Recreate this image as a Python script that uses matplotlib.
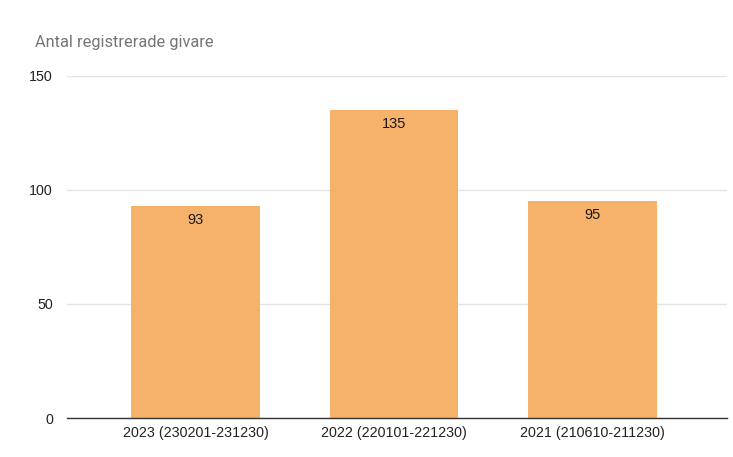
import matplotlib.pyplot as plt

categories = ['2023 (230201-231230)', '2022 (220101-221230)', '2021 (210610-211230)']
values = [93, 135, 95]
y_ticks = [0, 50, 100, 150]
title = 'Antal registrerade givare'

bar_color = '#F6B26B'

fig = plt.figure(figsize=(7.33, 4.57), dpi=100)
ax = fig.add_axes([67 / 733, 1 - 418 / 457, 660 / 733, (418 - 76) / 457])

x = range(len(categories))
bars = ax.bar(x, values, width=0.65, color=bar_color, zorder=2)

for b, v in zip(bars, values):
    ax.annotate(str(v), (b.get_x() + b.get_width() / 2, v),
                xytext=(0, -5), textcoords='offset points',
                ha='center', va='top', fontsize=10.5, color='#1a1a1a',
                family='Liberation Sans', zorder=3)

ax.set_xlim(-0.65, 2.68)
ax.set_ylim(0, 150)
ax.set_yticks(y_ticks)
ax.set_xticks(list(x))
ax.set_xticklabels(categories, fontsize=10.3, color='#222222', family='Liberation Sans')
for lbl in ax.get_yticklabels():
    lbl.set_fontsize(10.3)
    lbl.set_color('#222222')
    lbl.set_family('Liberation Sans')

ax.grid(axis='y', color='#e4e4e4', linewidth=1, zorder=0)
ax.tick_params(length=0)
ax.tick_params(axis='y', pad=10)
ax.tick_params(axis='x', pad=6)
for side in ['top', 'right', 'left']:
    ax.spines[side].set_visible(False)
ax.spines['bottom'].set_color('#333333')
ax.spines['bottom'].set_linewidth(1)
ax.spines['bottom'].set_zorder(4)

fig.text(35 / 733, 1 - 42 / 457, title, fontsize=11.8, color='#757575',
         family='Roboto', va='center', ha='left')

fig.savefig('out.png', dpi=100)
